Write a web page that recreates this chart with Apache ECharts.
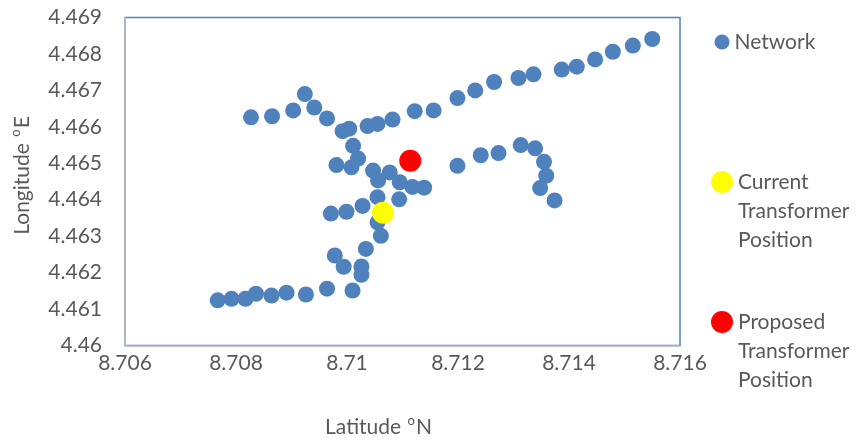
<!DOCTYPE html>
<html>
<head>
<meta charset="utf-8">
<script src="https://cdn.jsdelivr.net/npm/echarts@6/dist/echarts.min.js"></script>
<style>html,body{margin:0;padding:0;background:#fff}#c{width:859px;height:443px}</style>
</head>
<body>
<div id="c"></div>
<script>
// Axis ticks
var xTicks = [8.706, 8.708, 8.710, 8.712, 8.714, 8.716];
var yTicks = [4.460, 4.461, 4.462, 4.463, 4.464, 4.465, 4.466, 4.467, 4.468, 4.469];

// Network points (latitude, longitude)
var networkLat = [
  8.70767, 8.70792, 8.70817, 8.70836, 8.70864, 8.70891, 8.70926, 8.70964, 8.71010,
  8.70978, 8.70994, 8.71026, 8.71026, 8.71034, 8.71061, 8.71055,
  8.71028, 8.70999, 8.70971, 8.71055, 8.71094, 8.71056, 8.71047, 8.71077, 8.71095, 8.71118, 8.71139,
  8.70981, 8.71008, 8.71020, 8.71011, 8.70992, 8.71004,
  8.70827, 8.70865, 8.70903, 8.70924, 8.70941, 8.70964,
  8.71037, 8.71055, 8.71082, 8.71122, 8.71156, 8.71199, 8.71231, 8.71265, 8.71309, 8.71336,
  8.71387, 8.71414, 8.71447, 8.71479, 8.71515, 8.71550,
  8.71199, 8.71241, 8.71273, 8.71313, 8.71339, 8.71355, 8.71359, 8.71348, 8.71374
];
var networkLon = [
  4.46124, 4.46128, 4.46128, 4.46142, 4.46137, 4.46145, 4.46140, 4.46156, 4.46151,
  4.46247, 4.46216, 4.46217, 4.46194, 4.46265, 4.46301, 4.46338,
  4.46383, 4.46367, 4.46362, 4.46407, 4.46401, 4.46453, 4.46480, 4.46475, 4.46448, 4.46435, 4.46433,
  4.46495, 4.46489, 4.46513, 4.46548, 4.46588, 4.46595,
  4.46626, 4.46629, 4.46645, 4.46690, 4.46653, 4.46623,
  4.46602, 4.46608, 4.46620, 4.46643, 4.46645, 4.46679, 4.46700, 4.46723, 4.46734, 4.46744,
  4.46757, 4.46765, 4.46785, 4.46806, 4.46823, 4.46841,
  4.46493, 4.46522, 4.46528, 4.46550, 4.46541, 4.46504, 4.46466, 4.46432, 4.46398
];
var currentLat = [8.71065];
var currentLon = [4.46364];
var proposedLat = [8.71114];
var proposedLon = [4.46507];

var seriesNames = ['Network', 'Current\nTransformer\nPosition', 'Proposed\nTransformer\nPosition'];
var seriesColors = ['#4F81BD', '#FFFF00', '#FF0000'];

function pairs(a, b) { return a.map(function (v, i) { return [v, b[i]]; }); }
function fmt(v) { return String(parseFloat(v.toFixed(3))); }

var FONT = 'Lato';
var TXT = '#595959';
var LH = 29;

var chart = echarts.init(document.getElementById('c'), null, { renderer: 'canvas' });

function legendFor(i, size, top) {
  return {
    data: [seriesNames[i]],
    left: 722 - size / 2,
    top: top,
    orient: 'vertical',
    padding: 0,
    itemWidth: size,
    itemHeight: size,
    selectedMode: false,
    icon: 'circle',
    formatter: function (name) {
      // pad with blank lines so the marker sits beside the first line
      return i === 0 ? name : ' \n \n' + name;
    },
    textStyle: { fontFamily: FONT, fontSize: 21, color: TXT, lineHeight: LH }
  };
}

var supRich = {
  t: { fontFamily: FONT, fontSize: 21, color: TXT, lineHeight: 26 },
  s: { fontFamily: FONT, fontSize: 13, color: TXT, verticalAlign: 'top', lineHeight: 13, padding: [0, 1, 0, 1] }
};

chart.setOption({
  animation: false,
  backgroundColor: '#fff',
  grid: {
    left: 125, right: 179, top: 17.5, bottom: 96,
    show: true, borderColor: '#4F81BD', borderWidth: 1.5, backgroundColor: 'transparent'
  },
  legend: [legendFor(0, 15, 27.5), legendFor(1, 22, 109.5), legendFor(2, 22, 249.5)],
  xAxis: {
    type: 'value',
    min: xTicks[0], max: xTicks[xTicks.length - 1], interval: xTicks[1] - xTicks[0],
    name: '{t|Latitude }{s|o}{t|N}',
    nameLocation: 'middle', nameGap: 69,
    nameTextStyle: { padding: [0, 48, 0, 0], rich: supRich },
    axisLine: { show: true, onZero: false, lineStyle: { color: '#BFBFBF', width: 1.5 } },
    axisTick: { show: false },
    splitLine: { show: false },
    axisLabel: { fontFamily: FONT, fontSize: 21, color: TXT, margin: 7, formatter: fmt }
  },
  yAxis: {
    type: 'value',
    min: yTicks[0], max: yTicks[yTicks.length - 1], interval: yTicks[1] - yTicks[0],
    name: '{t|Longitude }{s|o}{t|E}',
    nameLocation: 'middle', nameGap: 90, nameRotate: 90,
    nameTextStyle: { padding: [0, 0, 0, 12], rich: supRich },
    axisLine: { show: true, onZero: false, lineStyle: { color: '#BFBFBF', width: 1.5 } },
    axisTick: { show: false },
    splitLine: { show: false },
    axisLabel: { fontFamily: FONT, fontSize: 21, color: TXT, margin: 23, formatter: fmt }
  },
  series: [
    {
      name: seriesNames[0], type: 'scatter', symbol: 'circle', symbolSize: 16,
      itemStyle: { color: seriesColors[0], opacity: 1 },
      data: pairs(networkLat, networkLon)
    },
    {
      name: seriesNames[1], type: 'scatter', symbol: 'circle', symbolSize: 22,
      itemStyle: { color: seriesColors[1], opacity: 1 },
      data: pairs(currentLat, currentLon)
    },
    {
      name: seriesNames[2], type: 'scatter', symbol: 'circle', symbolSize: 22,
      itemStyle: { color: seriesColors[2], opacity: 1 },
      data: pairs(proposedLat, proposedLon)
    }
  ]
});
</script>
</body>
</html>
